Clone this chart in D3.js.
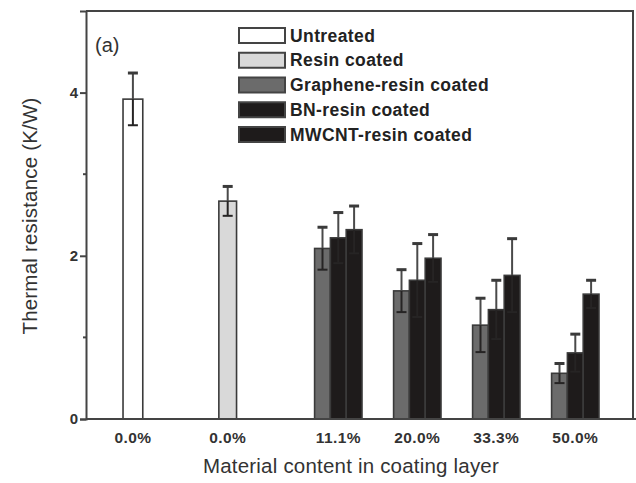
<!DOCTYPE html>
<html>
<head>
<meta charset="utf-8">
<script src="https://cdn.jsdelivr.net/npm/d3@7/dist/d3.min.js"></script>
<style>
  body { margin: 0; background: #fff; }
  svg { font-family: "Liberation Sans", Arial, sans-serif; }
</style>
</head>
<body>
<div id="chart"></div>
<script>
// Data (null = no bar in that slot)
const categories = ["0.0% (untreated)", "0.0% (resin)", "11.1%", "20.0%", "33.3%", "50.0%"];
const tickLabels = ["0.0%", "0.0%", "11.1%", "20.0%", "33.3%", "50.0%"];
const seriesNames = ["Untreated", "Resin coated", "Graphene-resin coated", "BN-resin coated", "MWCNT-resin coated"];

const untreated = [3.92, null, null, null, null, null];
const resinCoated = [null, 2.67, null, null, null, null];
const grapheneResin = [null, null, 2.09, 1.57, 1.15, 0.56];
const bnResin = [null, null, 2.22, 1.70, 1.34, 0.81];
const mwcntResin = [null, null, 2.32, 1.97, 1.76, 1.53];

const untreatedErr = [0.32, null, null, null, null, null];
const resinCoatedErr = [null, 0.18, null, null, null, null];
const grapheneResinErr = [null, null, 0.26, 0.26, 0.33, 0.12];
const bnResinErr = [null, null, 0.31, 0.45, 0.36, 0.23];
const mwcntResinErr = [null, null, 0.29, 0.29, 0.45, 0.17];

const yTicks = [0, 2, 4];
const yMinorTicks = [1, 3];

// Styles
const fills = ["#ffffff", "#d9d9d9", "#6b6b6b", "#1e1b1b", "#1e1b1b"];
const widen = [1.25, 1.12, 1, 1, 1];

const values = [untreated, resinCoated, grapheneResin, bnResin, mwcntResin];
const errors = [untreatedErr, resinCoatedErr, grapheneResinErr, bnResinErr, mwcntResinErr];

const width = 636, height = 483;
const margin = { top: 11, right: 3, bottom: 64, left: 86 };
const innerW = width - margin.left - margin.right;
const innerH = height - margin.top - margin.bottom;

const svg = d3.select("#chart").append("svg")
  .attr("width", width).attr("height", height);
const g = svg.append("g")
  .attr("transform", `translate(${margin.left},${margin.top})`);

// Scales
const y = d3.scaleLinear().domain([0, 5]).range([innerH, 0]);
const x = d3.scaleBand().domain(categories).range([39, 513]).padding(0);
const xs = d3.scaleBand().domain(seriesNames).range([0, x.bandwidth()]).padding(0);

// Flatten bars
const bars = [];
categories.forEach((c, ci) => {
  seriesNames.forEach((s, si) => {
    const v = values[si][ci];
    if (v == null) return;
    bars.push({ cat: c, ci, series: s, si, value: v, err: errors[si][ci] });
  });
});
const barCenter = (d) => x(d.cat) + xs(d.series) + xs.bandwidth() / 2;
const barWidth = (d) => xs.bandwidth() * widen[d.si];

// Bars
g.selectAll(".bar").data(bars).join("rect")
  .attr("class", "bar")
  .attr("x", (d) => barCenter(d) - barWidth(d) / 2)
  .attr("width", (d) => barWidth(d))
  .attr("y", (d) => y(d.value))
  .attr("height", (d) => y(0) - y(d.value))
  .attr("fill", (d) => fills[d.si])
  .attr("stroke", "#3a3a3a")
  .attr("stroke-width", 1.6);

// Error bars: upper half grey, lower half (inside the bar) darker
const eb = g.selectAll(".err").data(bars).join("g").attr("class", "err")
  .attr("stroke-width", 2);
eb.append("line")
  .attr("x1", barCenter).attr("x2", barCenter)
  .attr("y1", (d) => y(d.value)).attr("y2", (d) => y(d.value + d.err))
  .attr("stroke", "#4a4a4a");
eb.append("line")
  .attr("x1", (d) => barCenter(d) - 5).attr("x2", (d) => barCenter(d) + 5)
  .attr("y1", (d) => y(d.value + d.err)).attr("y2", (d) => y(d.value + d.err))
  .attr("stroke", "#3a3a3a").attr("stroke-width", 3);
const lower = eb.append("g").attr("stroke", "#262424");
lower.append("line")
  .attr("x1", barCenter).attr("x2", barCenter)
  .attr("y1", (d) => y(d.value - d.err)).attr("y2", (d) => y(d.value));
lower.append("line")
  .attr("x1", (d) => barCenter(d) - 5).attr("x2", (d) => barCenter(d) + 5)
  .attr("y1", (d) => y(d.value - d.err)).attr("y2", (d) => y(d.value - d.err));

// Frame (top + right)
g.append("path")
  .attr("d", `M0,0H${innerW}V${innerH}`)
  .attr("fill", "none").attr("stroke", "#444").attr("stroke-width", 2);

// Y axis
const yAxis = g.append("g").attr("class", "y-axis")
  .call(d3.axisLeft(y).tickValues(yTicks).tickSize(6).tickPadding(2).tickFormat(d3.format("d")));
yAxis.select(".domain").attr("stroke", "#444").attr("stroke-width", 2);
yAxis.selectAll(".tick line").attr("stroke", "#444").attr("stroke-width", 2);
yAxis.selectAll(".tick text")
  .attr("font-size", 15).attr("font-weight", "bold").attr("fill", "#333");
g.append("g").selectAll("line").data(yMinorTicks).join("line")
  .attr("x1", -3).attr("x2", 0)
  .attr("y1", (d) => y(d)).attr("y2", (d) => y(d))
  .attr("stroke", "#444").attr("stroke-width", 2);

// X axis line
g.append("line")
  .attr("x1", 0).attr("x2", innerW + 3)
  .attr("y1", innerH).attr("y2", innerH)
  .attr("stroke", "#444").attr("stroke-width", 2);

// X labels centred under the bars present in each category
g.append("g").selectAll("text").data(categories).join("text")
  .attr("x", (c) => d3.mean(bars.filter((b) => b.cat === c), barCenter))
  .attr("y", innerH + 24)
  .attr("text-anchor", "middle")
  .attr("font-size", 15.5).attr("font-weight", "bold").attr("fill", "#333")
  .attr("letter-spacing", 0.4)
  .text((c, i) => tickLabels[i]);

// Axis titles
svg.append("text")
  .attr("x", 351).attr("y", 473)
  .attr("text-anchor", "middle").attr("font-size", 20.5).attr("fill", "#333")
  .attr("letter-spacing", 0.2)
  .text("Material content in coating layer");
svg.append("text")
  .attr("transform", "translate(37,216) rotate(-90)")
  .attr("text-anchor", "middle").attr("font-size", 20.5).attr("fill", "#333")
  .attr("letter-spacing", 0.2)
  .text("Thermal resistance (K/W)");

// Panel label
g.append("text")
  .attr("x", 9).attr("y", 41)
  .attr("font-size", 20).attr("fill", "#333")
  .text("(a)");

// Legend
const legend = g.append("g").attr("transform", "translate(153,17)");
const li = legend.selectAll("g").data(seriesNames).join("g")
  .attr("transform", (d, i) => `translate(0,${i * 24.75})`);
li.append("rect")
  .attr("width", 46).attr("height", 15)
  .attr("fill", (d, i) => fills[i])
  .attr("stroke", "#444").attr("stroke-width", 2);
li.append("text")
  .attr("x", 51).attr("y", 13.5)
  .attr("font-size", 17.5).attr("font-weight", "bold").attr("fill", "#222")
  .attr("letter-spacing", 0.4)
  .text((d) => d);
</script>
</body>
</html>
